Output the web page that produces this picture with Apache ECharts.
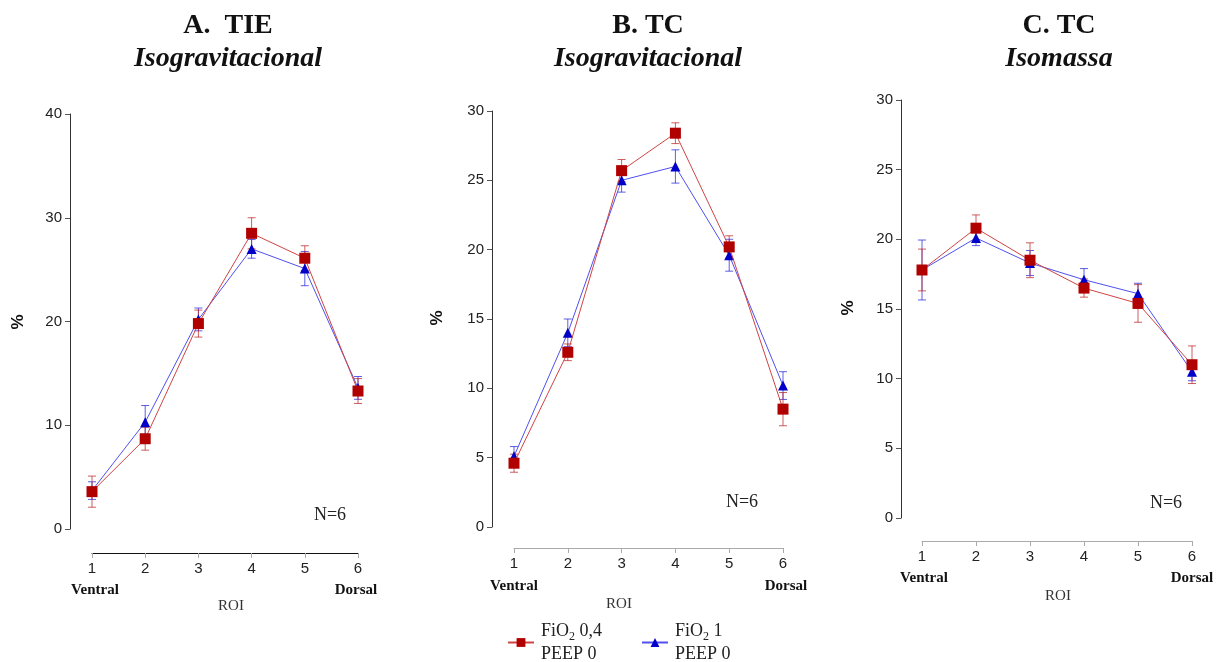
<!DOCTYPE html>
<html>
<head>
<meta charset="utf-8">
<script src="https://cdn.jsdelivr.net/npm/echarts@6/dist/echarts.min.js"></script>
<style>
html,body{margin:0;padding:0;background:#fff;}
#chart{width:1230px;height:662px;}
</style>
</head>
<body>
<div id="chart"></div>
<script>
// ---- data ----
const roi = [1, 2, 3, 4, 5, 6];
const yTicksA = [0, 10, 20, 30, 40];
const yTicksBC = [0, 5, 10, 15, 20, 25, 30];

// A. TIE Isogravitacional
const tieIsoRed = [3.6, 8.7, 19.8, 28.5, 26.1, 13.3];
const tieIsoRedErr = [1.5, 1.1, 1.3, 1.5, 1.2, 1.2];
const tieIsoBlue = [3.7, 10.3, 20.2, 27.0, 25.1, 13.6];
const tieIsoBlueErr = [0.85, 1.6, 1.1, 0.9, 1.65, 1.1];

// B. TC Isogravitacional
const tcIsoRed = [4.6, 12.6, 25.7, 28.4, 20.2, 8.5];
const tcIsoRedErr = [0.65, 0.6, 0.8, 0.75, 0.8, 1.2];
const tcIsoBlue = [5.1, 14.0, 25.0, 26.0, 19.6, 10.2];
const tcIsoBlueErr = [0.7, 1.0, 0.85, 1.2, 1.15, 1.0];

// C. TC Isomassa
const tcMassRed = [17.8, 20.8, 18.5, 16.5, 15.4, 11.0];
const tcMassRedErr = [1.5, 0.95, 1.25, 0.65, 1.35, 1.35];
const tcMassBlue = [17.8, 20.1, 18.3, 17.1, 16.1, 10.5];
const tcMassBlueErr = [2.15, 0.55, 0.9, 0.8, 0.75, 0.65];

const panelTitles = ['A.  TIE', 'B. TC', 'C. TC'];
const panelSubtitles = ['Isogravitacional', 'Isogravitacional', 'Isomassa'];
const seriesNames = ['red', 'blue'];

// ---- styles ----
const RED_LINE = '#cf4444', RED_MARK = '#b00000', RED_ERR = 'rgba(190,40,40,0.75)';
const BLUE_LINE = '#5050ee', BLUE_MARK = '#0000c8', BLUE_ERR = 'rgba(40,40,220,0.75)';
const SERIF = '"Liberation Serif", "Times New Roman", serif';
const SANS = '"Liberation Sans", Arial, sans-serif';

const panels = [
  {grid: {left: 92, top: 114, width: 266, height: 415}, yMax: 40, yInt: 10, yOff: 22, xOff: 24, xLine: '#111',
   red: tieIsoRed, redErr: tieIsoRedErr, blue: tieIsoBlue, blueErr: tieIsoBlueErr},
  {grid: {left: 514, top: 111, width: 269, height: 416}, yMax: 30, yInt: 5, yOff: 22, xOff: 21, xLine: '#aaa',
   red: tcIsoRed, redErr: tcIsoRedErr, blue: tcIsoBlue, blueErr: tcIsoBlueErr},
  {grid: {left: 922, top: 100, width: 270, height: 418}, yMax: 30, yInt: 5, yOff: 21, xOff: 23, xLine: '#aaa',
   red: tcMassRed, redErr: tcMassRedErr, blue: tcMassBlue, blueErr: tcMassBlueErr}
];

const grids = [], xAxes = [], yAxes = [], series = [], graphics = [];

function errRender(color) {
  return function (params, api) {
    const x = api.value(0), y = api.value(1), e = api.value(2);
    const t = api.coord([x, y + e]), b = api.coord([x, y - e]);
    const hw = 4;
    const st = {stroke: color, lineWidth: 1};
    return {type: 'group', children: [
      {type: 'line', shape: {x1: t[0], y1: t[1], x2: b[0], y2: b[1]}, style: st},
      {type: 'line', shape: {x1: t[0] - hw, y1: t[1], x2: t[0] + hw, y2: t[1]}, style: st},
      {type: 'line', shape: {x1: b[0] - hw, y1: b[1], x2: b[0] + hw, y2: b[1]}, style: st}
    ]};
  };
}

panels.forEach((p, i) => {
  grids.push(Object.assign({containLabel: false}, p.grid));
  xAxes.push({
    gridIndex: i, type: 'value', min: roi[0], max: roi[roi.length - 1], interval: 1,
    offset: p.xOff,
    axisLine: {show: true, onZero: false, lineStyle: {color: p.xLine, width: 1}},
    axisTick: {show: true, length: 5, lineStyle: {color: '#aaa'}},
    axisLabel: {margin: 8, color: '#222', fontFamily: SANS, fontSize: 15},
    splitLine: {show: false}
  });
  yAxes.push({
    gridIndex: i, type: 'value', min: 0, max: p.yMax, interval: p.yInt,
    offset: p.yOff,
    axisLine: {show: true, onZero: false, lineStyle: {color: '#333', width: 1}},
    axisTick: {show: true, length: 5, lineStyle: {color: '#555'}},
    axisLabel: {margin: 8, color: '#222', fontFamily: SANS, fontSize: 15},
    splitLine: {show: false}
  });
  series.push({
    type: 'custom', xAxisIndex: i, yAxisIndex: i, renderItem: errRender(BLUE_ERR),
    data: roi.map((r, k) => [r, p.blue[k], p.blueErr[k]]), z: 1, silent: true
  });
  series.push({
    type: 'custom', xAxisIndex: i, yAxisIndex: i, renderItem: errRender(RED_ERR),
    data: roi.map((r, k) => [r, p.red[k], p.redErr[k]]), z: 1, silent: true
  });
  series.push({
    name: seriesNames[1], type: 'line', xAxisIndex: i, yAxisIndex: i,
    data: roi.map((r, k) => [r, p.blue[k]]),
    symbol: 'triangle', symbolSize: 10,
    lineStyle: {color: BLUE_LINE, width: 1},
    itemStyle: {color: BLUE_MARK}, z: 3, animation: false
  });
  series.push({
    name: seriesNames[0], type: 'line', xAxisIndex: i, yAxisIndex: i,
    data: roi.map((r, k) => [r, p.red[k]]),
    symbol: 'rect', symbolSize: 11,
    lineStyle: {color: RED_LINE, width: 1},
    itemStyle: {color: RED_MARK}, z: 4, animation: false
  });
});

function txt(text, x, y, font, opts) {
  return Object.assign({
    type: 'text', silent: true,
    style: Object.assign({text: text, x: x, y: y, font: font, fill: '#111',
      textAlign: 'center', align: 'center', textVerticalAlign: 'middle', verticalAlign: 'middle'}, (opts && opts.style) || {})
  }, (opts && opts.el) || {});
}

const titleX = [228, 648, 1059];
const ventralX = [95, 514, 924], dorsalX = [356, 786, 1192];
const tickLabY = [590, 586, 578];
const roiPos = [[231, 606], [619, 604], [1058, 596]];
const pctPos = [[18, 322], [437, 318], [848, 308]];
const nPos = [[330, 515], [742, 502], [1166, 503]];

for (let i = 0; i < 3; i++) {
  graphics.push(txt(panelTitles[i], titleX[i], 26, 'bold 28px ' + SERIF));
  graphics.push(txt(panelSubtitles[i], titleX[i], 59, 'italic bold 28px ' + SERIF));
  graphics.push(txt('Ventral', ventralX[i], tickLabY[i], 'bold 15px ' + SERIF));
  graphics.push(txt('Dorsal', dorsalX[i], tickLabY[i], 'bold 15px ' + SERIF));
  graphics.push(txt('ROI', roiPos[i][0], roiPos[i][1], '15px ' + SERIF, {style: {fill: '#333'}}));
  graphics.push(txt('%', 0, 0, 'bold 17px ' + SANS, {el: {x: pctPos[i][0], y: pctPos[i][1], rotation: Math.PI / 2}}));
  graphics.push(txt('N=6', nPos[i][0], nPos[i][1], '18px ' + SERIF, {style: {fill: '#222'}}));
}

const option = {
  animation: false,
  backgroundColor: '#fff',
  grid: grids,
  xAxis: xAxes,
  yAxis: yAxes,
  series: series,
  legend: {
    data: seriesNames, left: 502, top: 617, orient: 'horizontal',
    itemGap: 39, itemWidth: 26, itemHeight: 11, selectedMode: false,
    formatter: function (n) {
      return n === 'red' ? '{a|FiO}{s|2}{a| 0,4}\n{a|PEEP 0}' : '{a|FiO}{s|2}{a| 1}\n{a|PEEP 0}';
    },
    textStyle: {
      padding: [0, 0, 0, 2],
      rich: {
        a: {fontFamily: SERIF, fontSize: 18, color: '#222', lineHeight: 23},
        s: {fontFamily: SERIF, fontSize: 12, color: '#222', lineHeight: 23, verticalAlign: 'bottom', padding: [6, 0, 0, 0]}
      }
    }
  },
  graphic: graphics
};

const chart = echarts.init(document.getElementById('chart'), null, {renderer: 'canvas'});
chart.setOption(option);
</script>
</body>
</html>
